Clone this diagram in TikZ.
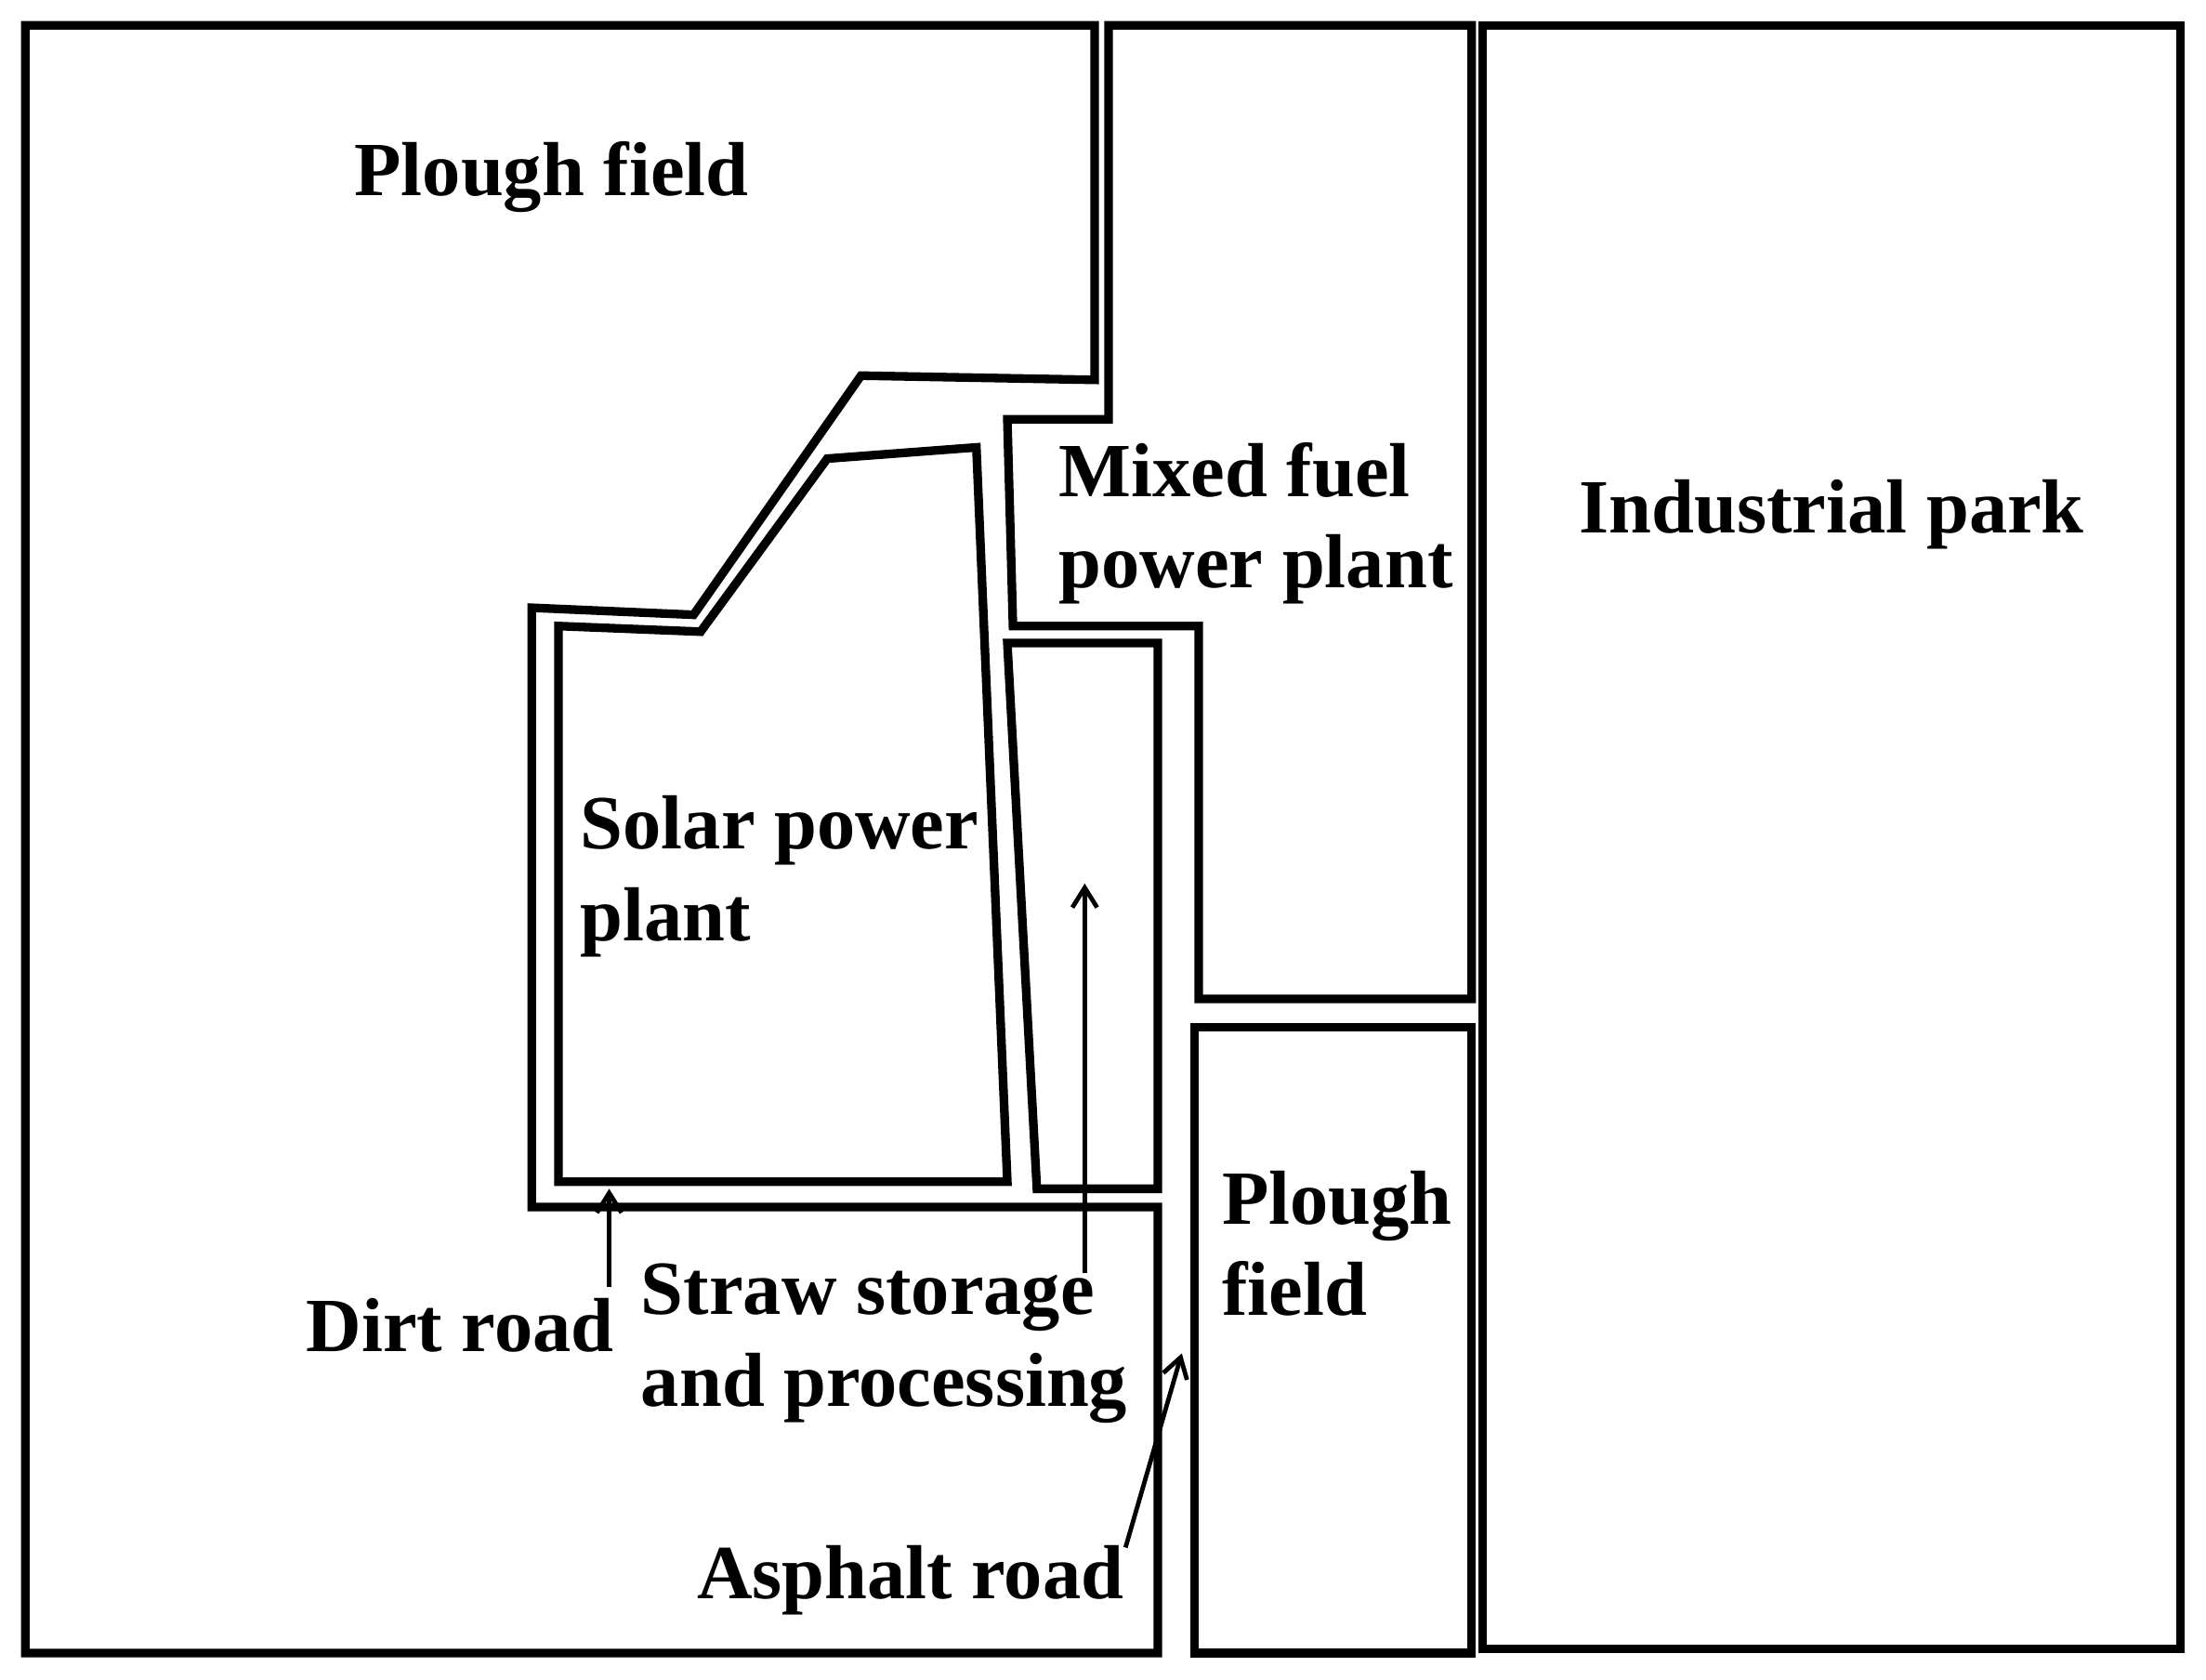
\documentclass[tikz,border=0pt]{standalone}
\usepackage{fontspec}
\setmainfont{Liberation Serif}
\usetikzlibrary{arrows.meta}
\begin{document}
\begin{tikzpicture}[x=0.1mm,y=-0.1mm,
  wall/.style={line width=1.75pt,line join=miter},
  lbl/.style={font=\fontsize{15.5}{18.5}\selectfont\bfseries,inner sep=0pt},
  lblL/.style={lbl,align=left,anchor=west},
  arr/.style={line width=0.9pt,-{Straight Barb[length=4pt,width=5pt]}}]
\useasboundingbox (0,0) rectangle (1568,1194);
\draw[wall] (18,18)--(778,18)--(778,270)--(612,267)--(493,437)--(378,432)--(378,858)--(823,858)--(823,1175)--(18,1175)--cycle;
\draw[wall] (788,18)--(1046,18)--(1046,710)--(852,710)--(852,445)--(720,445)--(716,298)--(788,298)--cycle;
\draw[wall] (1054,18) rectangle (1550,1172);
\draw[wall] (849,730) rectangle (1046,1175);
\draw[wall] (397,445)--(498,449)--(588,326)--(694,318)--(716,840)--(397,840)--cycle;
\draw[wall] (716,457)--(823,457)--(823,845)--(737,845)--cycle;
\node[lbl] (pf1) at (392,126) {Plough field};
\node[lblL] (mf) at (752,372) {Mixed fuel\\power plant};
\node[lbl] (ip) at (1302,366) {Industrial park};
\node[lblL] (sp) at (412,623) {Solar power\\plant};
\node[lbl] (dr) at (327,942) {Dirt road};
\node[lblL] (ss) at (455,955) {Straw storage\\and processing};
\node[lblL] (pf2) at (868,884) {Plough\\field};
\node[lbl] (ar) at (647,1123) {Asphalt road};
\coordinate (d1) at (433,915); \coordinate (d2) at (433,845);
\coordinate (s1) at (771,905); \coordinate (s2) at (771,628);
\coordinate (a1) at (800,1100); \coordinate (a2) at (840,962);
\draw[arr] (d1)--(d2);
\draw[arr] (s1)--(s2);
\draw[arr] (a1)--(a2);
\end{tikzpicture}
\end{document}
